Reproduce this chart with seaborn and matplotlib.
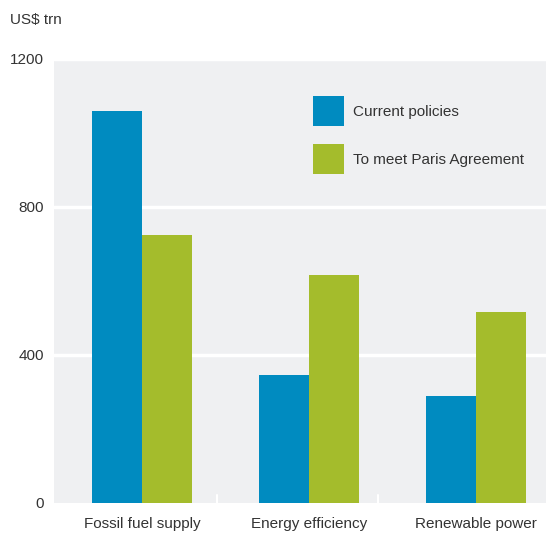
import pandas as pd
import numpy as np
import matplotlib.pyplot as plt
import seaborn as sns

categories = ["Fossil fuel supply", "Energy efficiency", "Renewable power"]
series_names = ["Current policies", "To meet Paris Agreement"]
current_policies = [1060, 345, 290]
paris_agreement = [725, 615, 515]
y_ticks = [0, 400, 800, 1200]

df = pd.DataFrame({
    "category": categories * 2,
    "scenario": [series_names[0]] * 3 + [series_names[1]] * 3,
    "value": current_policies + paris_agreement,
})

sns.set_theme(style="white")
plt.rcParams['font.family'] = ['Liberation Sans', 'DejaVu Sans']

txt = "#333333"
bg = "#eff0f2"
colors = ["#008bc0", "#a4bc2c"]

fig = plt.figure(figsize=(5.46, 5.33), dpi=100)
ax = fig.add_axes([54 / 546, 30 / 533, 492 / 546, 444 / 533])
ax.set_facecolor(bg)

sns.barplot(data=df, x="category", y="value", hue="scenario", palette=colors,
            width=0.6, saturation=1, linewidth=0, ax=ax, zorder=3)

ax.set_ylim(0, 1200)
ax.set_xlim(-0.53, 2.42)
ax.set_yticks(y_ticks)
ax.set_yticklabels([str(t) for t in y_ticks])
for t in [400, 800, 1200]:
    ax.axhline(t, color="white", lw=2.5, zorder=1)

# small separators between groups
for xs in [0.45, 1.41]:
    ax.plot([xs, xs], [0, 22], color="white", lw=1.5, zorder=2, clip_on=False)

for s in ax.spines.values():
    s.set_visible(False)
ax.tick_params(axis="both", length=0, labelsize=11, colors=txt)
ax.tick_params(axis="y", pad=7)
ax.tick_params(axis="x", pad=10)
ax.set_xlabel("")
ax.set_ylabel("")

leg = ax.legend(loc="upper left", bbox_to_anchor=((313 - 54) / 492, (503 - 96) / 444),
                frameon=False, borderpad=0, borderaxespad=0,
                fontsize=11, handlelength=2.0, handleheight=2.64,
                labelspacing=1.18, handletextpad=0.65, labelcolor=txt)

fig.text(10 / 546, 1 - 20 / 533, "US$ trn", fontsize=11, color=txt, va="center", ha="left")

fig.savefig("out.png", dpi=100, facecolor="white")
